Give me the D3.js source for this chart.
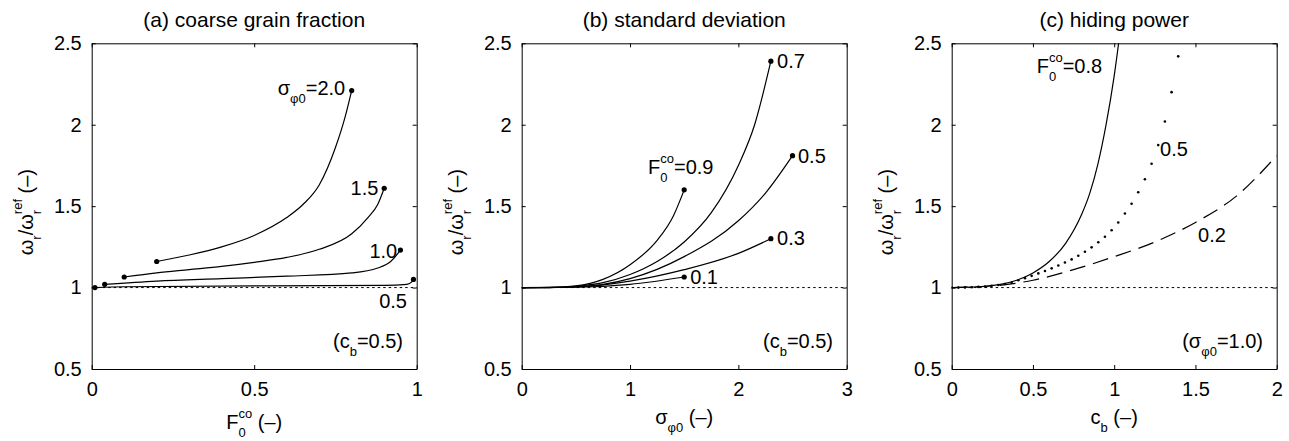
<!DOCTYPE html>
<html>
<head>
<meta charset="utf-8">
<script src="https://cdn.jsdelivr.net/npm/d3@7"></script>
<style>
  body { margin: 0; background: #fff; }
  svg { font-family: "Liberation Sans", Arial, Helvetica, sans-serif; }
  .axis path, .axis line { stroke: #000; stroke-width: 1; }
  .axis text { font-size: 20px; fill: #000; font-family: "Liberation Sans", Arial, sans-serif; }
</style>
</head>
<body>
<div id="chart"></div>
<script>
// ---- data ----

// (a) coarse grain fraction, one curve per sigma_phi0
var aF20x = [0.2, 0.3, 0.4, 0.5, 0.6, 0.65, 0.7, 0.75, 0.78, 0.8];
var aF20y = [1.16, 1.20, 1.25, 1.32, 1.43, 1.51, 1.63, 1.86, 2.05, 2.21];
var aF15x = [0.1, 0.2, 0.3, 0.4, 0.5, 0.6, 0.7, 0.8, 0.85, 0.88, 0.9];
var aF15y = [1.065, 1.09, 1.11, 1.13, 1.155, 1.185, 1.235, 1.33, 1.43, 1.51, 1.61];
var aF10x = [0.04, 0.2, 0.4, 0.6, 0.8, 0.88, 0.92, 0.95];
var aF10y = [1.02, 1.04, 1.055, 1.07, 1.09, 1.12, 1.16, 1.23];
var aF05x = [0.01, 0.1, 0.5, 0.9, 0.97, 0.985, 0.99];
var aF05y = [1.0, 1.005, 1.01, 1.013, 1.02, 1.035, 1.05];

// (b) standard deviation, one curve per F0co
var bF09x = [0, 0.25, 0.5, 0.75, 1.0, 1.25, 1.4, 1.5];
var bF09y = [1, 1.0, 1.01, 1.05, 1.14, 1.29, 1.44, 1.60];
var bF07x = [0, 0.25, 0.5, 0.75, 1.0, 1.25, 1.5, 1.75, 2.0, 2.15, 2.3];
var bF07y = [1, 1.0, 1.008, 1.03, 1.08, 1.16, 1.28, 1.46, 1.75, 2.0, 2.39];
var bF05x = [0, 0.5, 1.0, 1.5, 2.0, 2.25, 2.5];
var bF05y = [1, 1.005, 1.055, 1.19, 1.41, 1.58, 1.81];
var bF03x = [0, 0.5, 1.0, 1.5, 2.0, 2.3];
var bF03y = [1, 1.004, 1.04, 1.11, 1.21, 1.30];
var bF01x = [0, 0.5, 1.0, 1.5];
var bF01y = [1, 1.002, 1.02, 1.065];

// (c) hiding power
var cF08x = [0, 0.2, 0.3, 0.4, 0.5, 0.6, 0.7, 0.8, 0.85, 0.9, 0.95, 1.0, 1.04];
var cF08y = [1, 1.008, 1.02, 1.045, 1.09, 1.16, 1.27, 1.45, 1.58, 1.76, 2.0, 2.3, 2.6];
// F0co = 0.5 drawn as point markers
var cF05x = [0, 0.041, 0.082, 0.123, 0.164, 0.205, 0.246, 0.287, 0.328, 0.369, 0.41, 0.451,
             0.492, 0.533, 0.574, 0.615, 0.656, 0.697, 0.738, 0.779, 0.82, 0.861, 0.902,
             0.943, 0.984, 1.025, 1.066, 1.107, 1.148, 1.189, 1.23, 1.271, 1.312, 1.353, 1.394];
var cF05y = [1.0, 1.0, 1.001, 1.002, 1.004, 1.007, 1.011, 1.016, 1.022, 1.03, 1.045, 1.058,
             1.072, 1.087, 1.102, 1.118, 1.136, 1.154, 1.173, 1.195, 1.22, 1.247, 1.278,
             1.312, 1.352, 1.40, 1.455, 1.515, 1.585, 1.665, 1.76, 1.875, 2.02, 2.20, 2.42];
var cF02x = [0, 0.25, 0.5, 0.75, 1.0, 1.25, 1.5, 1.75, 2.0];
var cF02y = [1, 1.01, 1.045, 1.11, 1.19, 1.28, 1.40, 1.56, 1.81];

var yTicks = [0.5, 1, 1.5, 2, 2.5];
var aTicks = [0, 0.5, 1];
var bTicks = [0, 1, 2, 3];
var cTicks = [0, 0.5, 1, 1.5, 2];

// ---- layout ----
var svgWidth = 1289, svgHeight = 441;
var plotTop = 43.3, plotW = 325, plotH = 325.7;
var lefts = [91.7, 521.7, 951.7];
var fs = 20;

var svg = d3.select("#chart").append("svg")
    .attr("width", svgWidth)
    .attr("height", svgHeight);

// text with sub / superscripts; parts: [text, mode]
function rich(sel, parts) {
    var cur = 0, lastW = 0;
    parts.forEach(function (p) {
        var mode = p[1] || "";
        var target = mode === "sub" ? 8 : (mode === "sup" || mode === "supS") ? -11 : 0;
        var ts = sel.append("tspan")
            .attr("font-size", mode ? 13 : fs)
            .attr("fill", "#000")
            .attr("dy", target - cur)
            .text(p[0]);
        if (mode === "supS") ts.attr("dx", -lastW);
        if (mode === "sub") lastW = ts.node().getComputedTextLength();
        cur = target;
    });
    return sel;
}

function label(g, x, y, parts, anchor) {
    var t = g.append("text")
        .attr("x", x).attr("y", y)
        .attr("text-anchor", anchor || "start")
        .attr("font-size", fs)
        .attr("fill", "#000");
    return rich(t, parts);
}

function panel(i, xDomain, xTicks, title) {
    var g = svg.append("g").attr("transform", `translate(${lefts[i]}, ${plotTop})`);
    var x = d3.scaleLinear().domain(xDomain).range([0, plotW]);
    var y = d3.scaleLinear().domain([0.5, 2.5]).range([plotH, 0]);
    var fmt = d3.format("~g");

    g.append("g").attr("class", "axis")
        .attr("transform", `translate(0, ${plotH})`)
        .call(d3.axisBottom(x).tickValues(xTicks).tickFormat(fmt).tickSize(-4).tickSizeOuter(0).tickPadding(13));
    g.append("g").attr("class", "axis")
        .call(d3.axisTop(x).tickValues(xTicks).tickFormat("").tickSize(-4).tickSizeOuter(0));
    g.append("g").attr("class", "axis")
        .call(d3.axisLeft(y).tickValues(yTicks).tickFormat(fmt).tickSize(-4).tickSizeOuter(0).tickPadding(10));
    g.append("g").attr("class", "axis")
        .attr("transform", `translate(${plotW}, 0)`)
        .call(d3.axisRight(y).tickValues(yTicks).tickFormat("").tickSize(-4).tickSizeOuter(0));
    g.selectAll(".axis text").attr("font-size", fs);

    g.append("text")
        .attr("x", plotW / 2).attr("y", 27 - plotTop)
        .attr("text-anchor", "middle")
        .attr("font-size", 21)
        .text(title);

    // y label
    var yl = g.append("text")
        .attr("transform", `translate(-58.7, ${plotH / 2 + 6}) rotate(-90)`)
        .attr("text-anchor", "middle")
        .attr("font-size", fs);
    rich(yl, [["ω"], ["r", "sub"], ["/ω"], ["r", "sub"], ["ref", "supS"], [" (–)"]]);

    // reference line at 1
    g.append("line")
        .attr("x1", 0).attr("x2", plotW)
        .attr("y1", y(1)).attr("y2", y(1))
        .attr("stroke", "#000").attr("stroke-width", 1)
        .attr("stroke-dasharray", "2.5,3");

    g.append("clipPath").attr("id", "clip" + i)
        .append("rect").attr("width", plotW).attr("height", plotH);

    var plot = g.append("g").attr("clip-path", `url(#clip${i})`);
    return { g: g, plot: plot, x: x, y: y };
}

function curve(p, xs, ys, dash) {
    var line = d3.line()
        .x(function (d) { return p.x(d[0]); })
        .y(function (d) { return p.y(d[1]); })
        .curve(d3.curveMonotoneX);
    p.plot.append("path")
        .datum(d3.zip(xs, ys))
        .attr("d", line)
        .attr("fill", "none")
        .attr("stroke", "#000")
        .attr("stroke-width", 1.2)
        .attr("stroke-dasharray", dash || null);
}

function dot(p, xv, yv) {
    p.g.append("circle")
        .attr("cx", p.x(xv)).attr("cy", p.y(yv))
        .attr("r", 2.6).attr("fill", "#000");
}

// ---- (a) ----
var pa = panel(0, [0, 1], aTicks, "(a) coarse grain fraction");
[[aF20x, aF20y], [aF15x, aF15y], [aF10x, aF10y], [aF05x, aF05y]].forEach(function (s) {
    curve(pa, s[0], s[1]);
    dot(pa, s[0][0], s[1][0]);
    dot(pa, s[0][s[0].length - 1], s[1][s[1].length - 1]);
});
label(pa.g, pa.x(0.78), pa.y(2.18), [["σ"], ["φ0", "sub"], ["=2.0"]], "end");
label(pa.g, pa.x(0.882), pa.y(1.567), [["1.5"]], "end");
label(pa.g, pa.x(0.94), pa.y(1.18), [["1.0"]], "end");
label(pa.g, pa.x(0.97), pa.y(0.873), [["0.5"]], "end");
label(pa.g, pa.x(0.958), pa.y(0.627), [["(c"], ["b", "sub"], ["=0.5)"]], "end");
label(pa.g, plotW / 2, plotH + 60, [["F"], ["0", "sub"], ["co", "supS"], [" (–)"]], "middle");

// ---- (b) ----
var pb = panel(1, [0, 3], bTicks, "(b) standard deviation");
[[bF09x, bF09y], [bF07x, bF07y], [bF05x, bF05y], [bF03x, bF03y], [bF01x, bF01y]].forEach(function (s) {
    curve(pb, s[0], s[1]);
    dot(pb, s[0][s[0].length - 1], s[1][s[1].length - 1]);
});
label(pb.g, pb.x(1.166), pb.y(1.70), [["F"], ["0", "sub"], ["co", "supS"], ["=0.9"]]);
label(pb.g, pb.x(2.357), pb.y(2.347), [["0.7"]]);
label(pb.g, pb.x(2.55), pb.y(1.763), [["0.5"]]);
label(pb.g, pb.x(2.357), pb.y(1.26), [["0.3"]]);
label(pb.g, pb.x(1.555), pb.y(1.02), [["0.1"]]);
label(pb.g, pb.x(2.874), pb.y(0.627), [["(c"], ["b", "sub"], ["=0.5)"]], "end");
label(pb.g, plotW / 2, plotH + 55, [["σ"], ["φ0", "sub"], [" (–)"]], "middle");

// ---- (c) ----
var pc = panel(2, [0, 2], cTicks, "(c) hiding power");
curve(pc, cF08x, cF08y);
curve(pc, cF02x, cF02y, "16,8");
pc.plot.selectAll("circle.pt")
    .data(d3.zip(cF05x, cF05y))
    .enter().append("circle")
    .attr("class", "pt")
    .attr("cx", function (d) { return pc.x(d[0]); })
    .attr("cy", function (d) { return pc.y(d[1]); })
    .attr("r", 1.3)
    .attr("fill", "#000");
label(pc.g, pc.x(0.523), pc.y(2.32), [["F"], ["0", "sub"], ["co", "supS"], ["=0.8"]]);
label(pc.g, pc.x(1.282), pc.y(1.81), [["0.5"]]);
label(pc.g, pc.x(1.516), pc.y(1.278), [["0.2"]]);
label(pc.g, pc.x(1.916), pc.y(0.627), [["(σ"], ["φ0", "sub"], ["=1.0)"]], "end");
label(pc.g, plotW / 2, plotH + 55, [["c"], ["b", "sub"], [" (–)"]], "middle");
</script>
</body>
</html>
